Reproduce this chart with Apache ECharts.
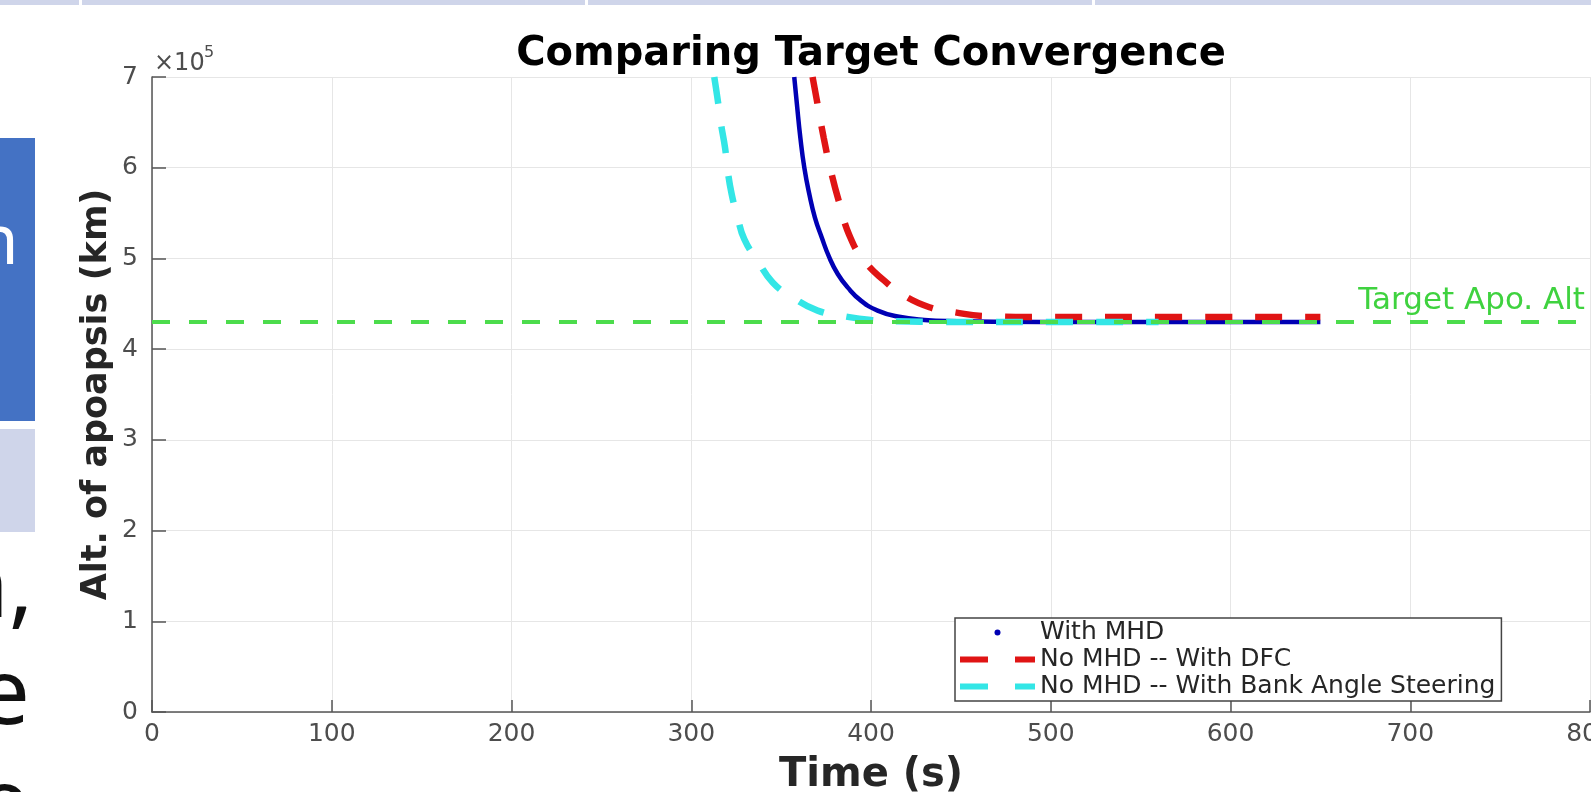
<!DOCTYPE html>
<html>
<head>
<meta charset="utf-8">
<title>Comparing Target Convergence</title>
<script src="https://cdn.jsdelivr.net/npm/echarts@6.0.0/dist/echarts.min.js"></script>
<style>
  html, body { margin: 0; padding: 0; background: #fff; }
  #chart { width: 1591px; height: 792px; }
</style>
</head>
<body>
<div id="chart"></div>
<script>
const FONT = 'DejaVu Sans'

// time (s) / altitude of apoapsis (km)
const withMhdTime = [357.3, 358.8, 360.7, 362.9, 365.7, 368.8, 372.6, 376.8, 381.5, 387.0, 394.4, 403.7, 414.8, 429.7, 448.2, 470, 520, 600, 650]
const withMhdAlt = [700000, 669600, 633000, 600000, 570700, 545100, 523100, 501100, 482800, 468100, 453500, 442500, 435900, 432200, 430800, 430200, 430000, 430000, 430000]

const dfcTime = [367.5, 370.3, 373.7, 377.7, 382.6, 388.5, 396.3, 407.4, 418.5, 432.5, 446.4, 463.0, 490, 560, 650]
const dfcAlt = [700000, 669600, 633000, 596300, 559700, 523100, 497400, 475500, 459000, 446200, 440700, 436500, 435500, 435500, 435500]

const bankTime = [312.8, 314.7, 316.6, 318.8, 320.3, 322.5, 325.8, 329.5, 336.9, 345.3, 356.4, 370.3, 386.1, 400.0, 414.8, 440, 500, 560]
const bankAlt = [700000, 675100, 647600, 622000, 596300, 570700, 545100, 521200, 497400, 473600, 457100, 442500, 435900, 432200, 430800, 430000, 430000, 430000]

const TARGET_ALT = 430000
const seriesNames = ['With MHD', 'No MHD -- With DFC', 'No MHD -- With Bank Angle Steering']

function pairs(xs, ys) {
  return xs.map((x, i) => [x, ys[i]])
}

const axisColor = '#555'
const labelColor = '#4d4d4d'
// two dashes, like the MATLAB legend sample
const dashIcon = 'path://M0,0H28V6H0Z M55,0H75V6H55Z'

let myChart = echarts.init(document.getElementById('chart'))

let option = {
  animation: false,
  backgroundColor: '#fff',
  title: {
    text: 'Comparing Target Convergence',
    left: 871,
    top: 35,
    textAlign: 'center',
    padding: 0,
    textStyle: { fontFamily: FONT, fontWeight: 'bold', fontSize: 40, color: '#000' }
  },
  legend: {
    orient: 'vertical',
    left: 955,
    top: 618,
    padding: [1, 6, 1, 5],
    itemGap: 0,
    itemWidth: 75,
    itemHeight: 6,
    selectedMode: false,
    backgroundColor: '#fff',
    borderColor: '#444',
    borderWidth: 1.5,
    borderRadius: 0,
    textStyle: { fontFamily: FONT, fontSize: 25, lineHeight: 27, color: '#262626' },
    data: [
      { name: seriesNames[0], icon: 'circle', itemStyle: { borderWidth: 0 } },
      { name: seriesNames[1], icon: dashIcon, itemStyle: { borderWidth: 0 } },
      { name: seriesNames[2], icon: dashIcon, itemStyle: { borderWidth: 0 } }
    ]
  },
  grid: { left: 152, right: 1, top: 77, bottom: 80, containLabel: false, outerBoundsMode: 'none' },
  xAxis: {
    type: 'value',
    min: 0,
    max: 800,
    interval: 100,
    name: 'Time (s)',
    nameLocation: 'middle',
    nameGap: 44,
    nameTextStyle: { fontFamily: FONT, fontWeight: 'bold', fontSize: 40, color: '#262626' },
    axisLine: { show: true, lineStyle: { color: axisColor, width: 1.5 } },
    axisTick: { show: true, inside: true, length: 12, lineStyle: { color: axisColor, width: 1.5 } },
    axisLabel: { margin: 10, fontFamily: FONT, fontSize: 25, color: labelColor },
    splitLine: { show: true, lineStyle: { color: '#e6e6e6', width: 1 } }
  },
  yAxis: {
    type: 'value',
    min: 0,
    max: 700000,
    interval: 100000,
    name: 'Alt. of apoapsis (km)',
    nameLocation: 'middle',
    nameRotate: 90,
    nameGap: 38,
    nameMoveOverlap: false,
    nameTextStyle: { fontFamily: FONT, fontWeight: 'bold', fontSize: 35, color: '#262626' },
    axisLine: { show: true, lineStyle: { color: axisColor, width: 1.5 } },
    axisTick: { show: true, inside: true, length: 14, lineStyle: { color: axisColor, width: 1.5 } },
    axisLabel: {
      margin: 14,
      fontFamily: FONT,
      fontSize: 25,
      color: labelColor,
      formatter: v => String(v / 100000)
    },
    splitLine: { show: true, lineStyle: { color: '#e6e6e6', width: 1 } }
  },
  graphic: [
    // bits of the slide around the figure
    { type: 'rect', shape: { x: 0, y: 0, width: 79, height: 5 }, style: { fill: '#cfd5ea' } },
    { type: 'rect', shape: { x: 82, y: 0, width: 503, height: 5 }, style: { fill: '#cfd5ea' } },
    { type: 'rect', shape: { x: 588, y: 0, width: 504, height: 5 }, style: { fill: '#cfd5ea' } },
    { type: 'rect', shape: { x: 1095, y: 0, width: 496, height: 5 }, style: { fill: '#cfd5ea' } },
    { type: 'rect', shape: { x: 0, y: 138, width: 35, height: 283 }, style: { fill: '#4472c4' } },
    { type: 'rect', shape: { x: 0, y: 429, width: 35, height: 103 }, style: { fill: '#cfd5ea' } },
    { type: 'text', x: -24, y: 244, style: { text: 'n', fill: '#fff', font: '69px "Noto Sans"', verticalAlign: 'middle' } },
    { type: 'text', x: -48, y: 591, style: { text: 'n,', fill: '#111', font: '92px "Noto Sans"', verticalAlign: 'middle' } },
    { type: 'text', x: -22, y: 698, style: { text: 'e', fill: '#111', font: '92px "Noto Sans"', verticalAlign: 'middle' } },
    { type: 'text', x: -22, y: 808, style: { text: 'e', fill: '#111', font: '92px "Noto Sans"', verticalAlign: 'middle' } },
    // axis exponent
    { type: 'text', x: 154, y: 52, style: { text: '×10', fill: labelColor, font: '24px "DejaVu Sans"' } },
    { type: 'text', x: 204, y: 45, style: { text: '5', fill: labelColor, font: '16px "DejaVu Sans"' } }
  ],
  series: [
    {
      name: seriesNames[0],
      type: 'line',
      data: pairs(withMhdTime, withMhdAlt),
      symbol: 'none',
      smooth: 0.5,
      color: '#0000b4',
      itemStyle: { color: '#0000b4' },
      lineStyle: { width: 4.5, color: '#0000b4' },
      z: 2
    },
    {
      name: seriesNames[1],
      type: 'line',
      data: pairs(dfcTime, dfcAlt),
      symbol: 'none',
      smooth: 0.5,
      color: '#e01414',
      itemStyle: { color: '#e01414' },
      lineStyle: { width: 6.5, type: [27, 23], color: '#e01414' },
      z: 3
    },
    {
      name: seriesNames[2],
      type: 'line',
      data: pairs(bankTime, bankAlt),
      symbol: 'none',
      smooth: 0.5,
      color: '#33e6e6',
      itemStyle: { color: '#33e6e6' },
      lineStyle: { width: 6.5, type: [27, 23], color: '#33e6e6' },
      z: 4
    },
    {
      name: 'Target Apo. Alt',
      type: 'line',
      data: [],
      z: 5,
      markLine: {
        silent: true,
        symbol: 'none',
        lineStyle: { color: '#4cdc4c', width: 4, type: [18, 19] },
        label: {
          show: true,
          position: 'insideEndTop',
          distance: 5,
          formatter: 'Target Apo. Alt',
          color: '#3fd23f',
          fontFamily: FONT,
          fontSize: 31
        },
        data: [{ yAxis: TARGET_ALT }]
      }
    }
  ]
}

myChart.setOption(option)
</script>
</body>
</html>
